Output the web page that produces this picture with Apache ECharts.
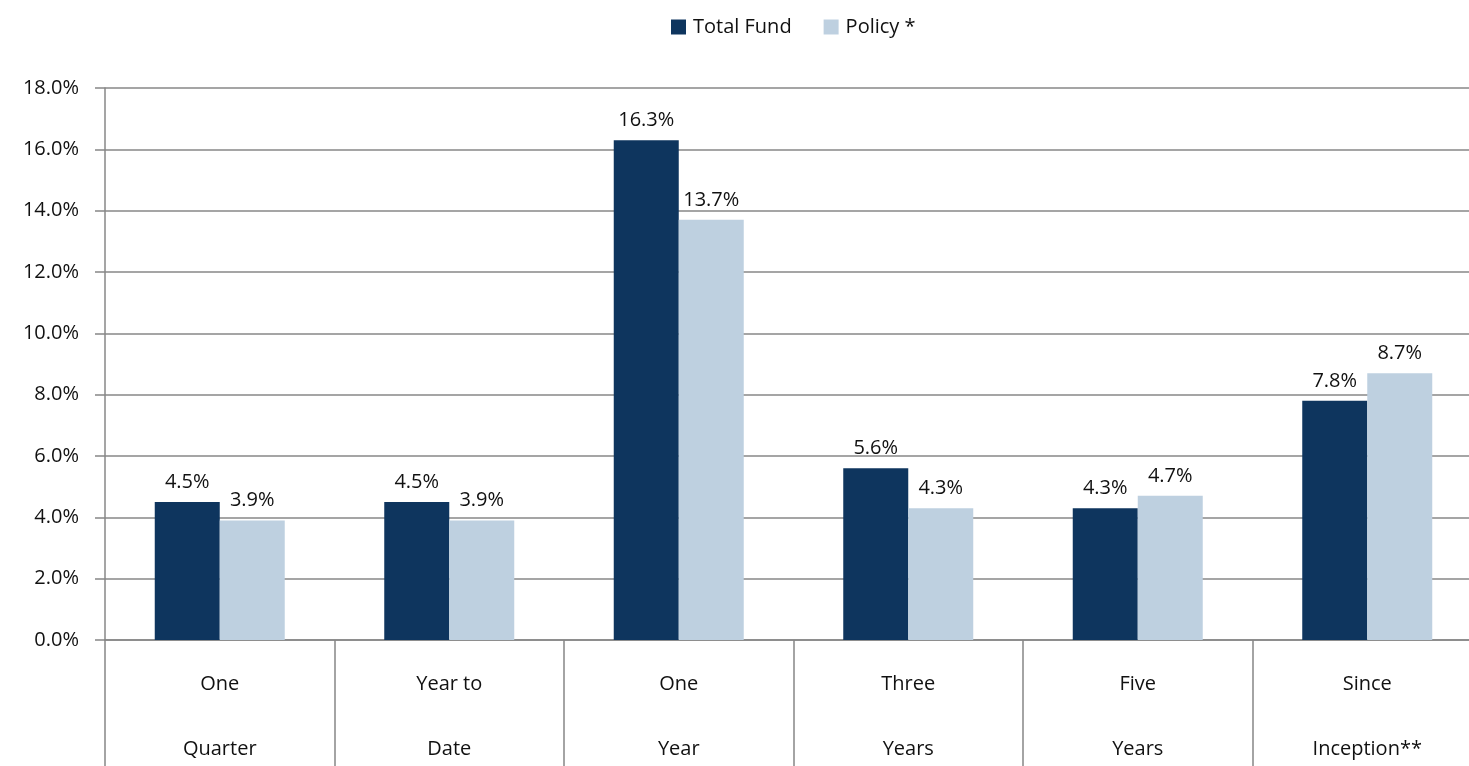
<!DOCTYPE html>
<html>
<head>
<meta charset="utf-8">
<script src="https://cdn.jsdelivr.net/npm/echarts@6/dist/echarts.min.js"></script>
<style>
  html, body { margin: 0; padding: 0; background: #fff; }
  #chart { width: 1469px; height: 766px; }
</style>
</head>
<body>
<div id="chart"></div>
<script>
// periods on the category axis
const categories = ["One\nQuarter", "Year to\nDate", "One\nYear", "Three\nYears", "Five\nYears", "Since\nInception**"];
// returns in percent
const totalFund = [4.5, 4.5, 16.3, 5.6, 4.3, 7.8];
const policy = [3.9, 3.9, 13.7, 4.3, 4.7, 8.7];
const seriesNames = ["Total Fund", "Policy *"];

const fontFamily = "'Open Sans', 'Noto Sans', sans-serif";
const grey = "#878787";

const chart = echarts.init(document.getElementById("chart"));

function labelStyle() {
  return {
    show: true,
    position: "top",
    distance: 10,
    color: "#111",
    fontSize: 20,
    fontFamily: fontFamily,
    formatter: (p) => p.value.toFixed(1) + "%",
  };
}

chart.setOption({
  animation: false,
  color: ["#0E355E", "#BED0E0"],
  textStyle: { fontFamily: fontFamily },
  legend: {
    top: 12,
    left: 666,
    itemWidth: 15,
    itemHeight: 15,
    itemGap: 32,
    icon: "rect",
    textStyle: { fontSize: 20, color: "#111", fontFamily: fontFamily, padding: [0, 0, 0, 2] },
    data: seriesNames,
  },
  grid: {
    left: 105,
    right: -13,
    top: 88,
    bottom: 126,
    outerBoundsMode: "none",
    containLabel: false,
  },
  xAxis: {
    type: "category",
    data: categories,
    axisLine: { show: true, lineStyle: { color: grey, width: 1.5 } },
    axisTick: {
      show: true,
      interval: 0,
      length: 126,
      lineStyle: { color: grey, width: 1.5 },
    },
    axisLabel: {
      interval: 0,
      margin: 12,
      fontSize: 20,
      color: "#111",
      lineHeight: 65,
      fontFamily: fontFamily,
    },
  },
  yAxis: {
    type: "value",
    min: 0,
    max: 18,
    interval: 2,
    axisLine: { show: true, lineStyle: { color: grey, width: 1.5 } },
    axisTick: { show: true, length: 10, lineStyle: { color: grey, width: 1.5 } },
    splitLine: { show: true, lineStyle: { color: grey, width: 1.5 } },
    axisLabel: {
      margin: 26,
      fontSize: 20,
      color: "#111",
      fontFamily: fontFamily,
      formatter: (v) => v.toFixed(1) + "%",
    },
  },
  series: [
    {
      name: seriesNames[0],
      type: "bar",
      data: totalFund,
      barWidth: 65,
      barGap: "0%",
      label: labelStyle(),
    },
    {
      name: seriesNames[1],
      type: "bar",
      data: policy,
      barWidth: 65,
      barGap: "0%",
      label: labelStyle(),
    },
  ],
});
</script>
</body>
</html>
